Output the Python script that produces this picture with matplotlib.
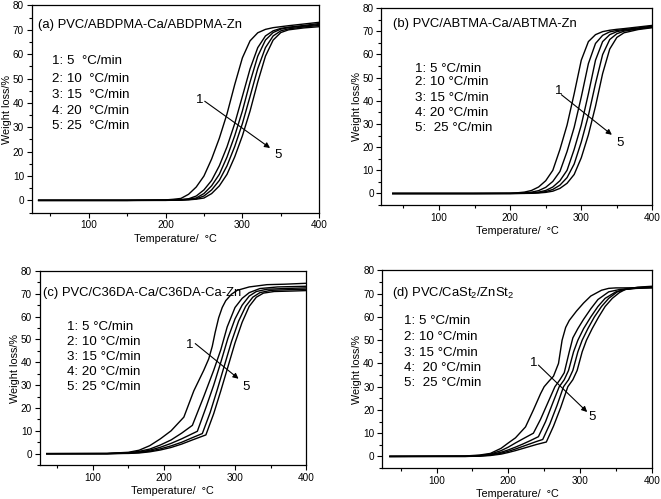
import matplotlib
matplotlib.use("Agg")
import matplotlib.pyplot as plt
from matplotlib.ticker import MultipleLocator

plt.rcParams["font.family"] = ["Liberation Sans", "DejaVu Sans"]
plt.rcParams["mathtext.fontset"] = "custom"
plt.rcParams["mathtext.rm"] = "Liberation Sans"

# ---- data (temperature in degC, weight loss in %) ----
temp_ab = [35, 150, 200, 210, 220, 230, 240, 250, 260, 270, 280, 290, 300, 310, 320, 330, 340, 350, 360, 380, 400]

a_loss = [
    [0, 0, 0.2, 0.45, 0.8, 2.5, 5.5, 10, 17, 25.5, 35.5, 47.5, 58.5, 65.5, 68.8, 70.2, 70.9, 71.3, 71.7, 72.4, 73.1],
    [0, 0, 0.1, 0.2, 0.35, 0.65, 1.8, 4.3, 8.2, 14.2, 22, 31.5, 42.7, 54, 62.7, 67.5, 69.6, 70.6, 71.1, 71.8, 72.6],
    [0, 0, 0.05, 0.1, 0.23, 0.5, 1, 2.8, 6, 10.7, 17.8, 26.5, 36.7, 48.6, 59.2, 65.8, 68.9, 70.3, 70.9, 71.5, 72.2],
    [0, 0, 0.02, 0.08, 0.15, 0.35, 0.65, 1.8, 4.3, 8.2, 14.2, 22.1, 31.5, 42.7, 54.1, 62.7, 67.5, 69.6, 70.4, 71.2, 71.8],
    [0, 0, 0, 0.05, 0.1, 0.23, 0.5, 0.97, 2.8, 5.95, 10.7, 17.85, 26.5, 36.7, 48.6, 59.2, 65.8, 68.9, 70, 70.8, 71.3],
]

b_loss = [
    [0, 0, 0.1, 0.3, 0.6, 1.3, 2.8, 5.5, 10, 19, 29.5, 43, 57.5, 65.5, 68.5, 69.8, 70.4, 70.8, 71.1, 71.8, 72.5],
    [0, 0, 0.05, 0.1, 0.28, 0.57, 1.23, 2.65, 5.2, 9.5, 18.1, 28.5, 41.6, 56, 64.7, 68.2, 69.7, 70.3, 70.7, 71.4, 72.2],
    [0, 0, 0.02, 0.05, 0.1, 0.3, 0.6, 1.3, 2.8, 5.5, 10, 19, 29.5, 43, 57.5, 65.5, 68.5, 69.8, 70.4, 71.1, 71.9],
    [0, 0, 0, 0.05, 0.07, 0.16, 0.39, 0.8, 1.75, 3.6, 6.85, 12.7, 22.2, 33.6, 47.4, 59.9, 66.4, 68.9, 70, 71, 71.7],
    [0, 0, 0, 0.02, 0.04, 0.08, 0.22, 0.48, 1, 2.2, 4.4, 8.2, 15.4, 25.3, 37.6, 51.7, 62.3, 67.3, 69.3, 70.7, 71.5],
]

c_temp = [
    [35, 120, 150, 165, 180, 195, 210, 228, 242, 256, 263, 268, 272, 277, 282, 287, 295, 303, 320, 345, 370, 400],
    [35, 120, 150, 165, 180, 195, 210, 225, 240, 256, 270, 280, 289, 300, 310, 320, 335, 360, 400],
    [35, 120, 150, 165, 180, 195, 210, 225, 247, 260, 270, 280, 290, 300, 310, 320, 330, 345, 370, 400],
    [35, 120, 150, 165, 180, 195, 210, 225, 240, 254, 265, 275, 285, 295, 305, 315, 325, 335, 350, 375, 400],
    [35, 120, 150, 165, 180, 195, 210, 225, 240, 259, 270, 280, 290, 300, 310, 320, 330, 340, 355, 380, 400],
]
c_loss = [
    [0, 0.1, 0.6, 1.5, 3.5, 6.5, 10, 16, 27.5, 36.5, 41.5, 47, 53, 59.5, 64, 67, 69.8, 71.5, 73, 74, 74.2, 74.6],
    [0, 0.05, 0.4, 1, 2, 3.8, 6, 9, 12.4, 25, 36.5, 45.5, 55.5, 64, 68, 70.5, 72.3, 73, 73.3],
    [0, 0, 0.3, 0.7, 1.5, 2.8, 4.5, 6.5, 9.8, 21, 30, 40, 50.5, 59, 65, 69, 71, 72, 72.3, 72.6],
    [0, 0, 0.2, 0.5, 1.1, 2.1, 3.4, 5, 7, 8.8, 18, 28, 38.5, 49, 58, 64.5, 68.5, 70.5, 71.5, 71.8, 72],
    [0, 0, 0.1, 0.3, 0.8, 1.6, 2.7, 4.2, 6, 8.2, 17.5, 27.5, 38, 48.5, 57.5, 64.5, 68.5, 70.3, 71, 71.2, 71.4],
]

d_temp = [
    [35, 140, 160, 175, 190, 200, 210, 224, 235, 245, 250, 257, 263, 270, 275, 280, 285, 295, 305, 315, 330, 340, 350, 360, 380, 400],
    [35, 140, 160, 175, 190, 200, 210, 220, 235, 245, 255, 265, 272, 278, 285, 290, 297, 305, 315, 325, 340, 355, 365, 380, 400],
    [35, 140, 160, 175, 190, 200, 210, 220, 230, 242, 252, 262, 271, 278, 284, 291, 297, 305, 315, 325, 335, 350, 362, 380, 400],
    [35, 140, 160, 175, 190, 200, 210, 220, 230, 240, 248, 258, 268, 277, 284, 290, 297, 303, 311, 320, 330, 340, 352, 362, 380, 400],
    [35, 140, 160, 175, 190, 200, 210, 220, 230, 240, 253, 263, 273, 283, 290, 296, 303, 309, 317, 326, 335, 345, 355, 363, 380, 400],
]
d_loss = [
    [0, 0.2, 0.6, 1.3, 3.5, 5.8, 8, 12.7, 20, 27, 30, 32.5, 34.5, 40, 50, 55.5, 58.5, 62.5, 66, 69, 71.5, 72.3, 72.5, 72.5, 72.6, 72.6],
    [0, 0.1, 0.4, 1, 2.5, 4, 5.8, 7.5, 10, 16, 23, 30, 33, 36, 45, 51, 55, 59, 63.5, 67.5, 70.8, 71.8, 72.1, 72.3, 72.5],
    [0, 0.05, 0.3, 0.8, 1.8, 2.8, 4, 5.3, 6.7, 8.5, 15, 23, 30, 33, 37, 45, 50, 55, 60, 64.5, 68, 70.8, 71.8, 72.4, 72.8],
    [0, 0, 0.2, 0.6, 1.4, 2.2, 3.2, 4.3, 5.4, 6.5, 7.3, 14, 22, 30, 33, 37, 45, 50, 55, 60, 64.5, 68, 70.8, 71.8, 72.6, 73],
    [0, 0, 0.1, 0.4, 1, 1.7, 2.5, 3.4, 4.3, 5.2, 6.2, 13, 21, 30, 33, 37, 45, 50, 55, 60, 64.5, 68, 70.5, 71.8, 72.8, 73.2],
]

titles = ["(a) PVC/ABDPMA-Ca/ABDPMA-Zn", "(b) PVC/ABTMA-Ca/ABTMA-Zn",
          "(c) PVC/C36DA-Ca/C36DA-Ca-Zn", r"(d) PVC/CaSt$_2$/ZnSt$_2$"]
rate_labels = [
    ["1: 5  °C/min", "2: 10  °C/min", "3: 15  °C/min", "4: 20  °C/min", "5: 25  °C/min"],
    ["1: 5 °C/min", "2: 10 °C/min", "3: 15 °C/min", "4: 20 °C/min", "5:  25 °C/min"],
    ["1: 5 °C/min", "2: 10 °C/min", "3: 15 °C/min", "4: 20 °C/min", "5: 25 °C/min"],
    ["1: 5 °C/min", "2: 10 °C/min", "3: 15 °C/min", "4:  20 °C/min", "5:  25 °C/min"],
]

boxes = [
    [0.048, 0.574, 0.435, 0.415],
    [0.577, 0.589, 0.410, 0.395],
    [0.060, 0.068, 0.403, 0.389],
    [0.578, 0.062, 0.408, 0.396],
]
xmins = [26, 19, 25, 24]
title_pos = [(34, 71.8), (36, 72.9), (30, 70.4), (38, 70.5)]
legend_x = [53, 66, 64, 54]
legend_y = [[57.1, 50, 43.2, 36.8, 30.4], [53.9, 48.1, 41.2, 34.7, 28.2],
            [55.5, 48.9, 42.3, 35.8, 29.2], [58.3, 51.2, 44.7, 38.1, 31.8]]
arrows = [((251, 40.7), (336, 21.5)), ((272, 42.6), (343, 25.3)),
          ((244, 48.2), (305, 32.8)), ((242, 39.3), (310, 19.1))]
label1 = [(244, 41.4), (268, 44), (236, 47.4), (236, 40)]
label5 = [(347, 18.8), (355, 21.7), (315, 29.2), (317, 17)]

fig = plt.figure(figsize=(6.61, 4.99), dpi=100)

for i in range(4):
    ax = fig.add_axes(boxes[i])
    if i == 0:
        for y in a_loss:
            ax.plot(temp_ab, y, color="black", lw=1.0)
    elif i == 1:
        for y in b_loss:
            ax.plot(temp_ab, y, color="black", lw=1.0)
    elif i == 2:
        for x, y in zip(c_temp, c_loss):
            ax.plot(x, y, color="black", lw=1.0)
    else:
        for x, y in zip(d_temp, d_loss):
            ax.plot(x, y, color="black", lw=1.0)

    ax.set_xlim(xmins[i], 400)
    ax.set_ylim(-5, 80)
    ax.xaxis.set_major_locator(MultipleLocator(100))
    ax.xaxis.set_minor_locator(MultipleLocator(50))
    ax.yaxis.set_major_locator(MultipleLocator(10))
    ax.yaxis.set_minor_locator(MultipleLocator(5))
    ax.tick_params(which="major", direction="out", length=3.5, width=0.8, labelsize=7.2, pad=2)
    ax.tick_params(which="minor", direction="out", length=2, width=0.8)
    for s in ax.spines.values():
        s.set_linewidth(0.9)

    ax.set_xlabel("Temperature/  °C", fontsize=7.8, labelpad=2.5)
    ax.set_ylabel("Weight loss/%", fontsize=7.8, labelpad=0.5)

    ax.text(title_pos[i][0], title_pos[i][1], titles[i], fontsize=9.4, va="center", ha="left")
    for lab, ly in zip(rate_labels[i], legend_y[i]):
        ax.text(legend_x[i], ly, lab, fontsize=9.6, va="center", ha="left")

    (x0, y0), (x1, y1) = arrows[i]
    ax.annotate("", xy=(x1, y1), xytext=(x0, y0),
                arrowprops=dict(arrowstyle="-|>", color="black", lw=0.8,
                                mutation_scale=8, shrinkA=0, shrinkB=0))
    ax.text(label1[i][0], label1[i][1], "1", fontsize=9.5, ha="center", va="center")
    ax.text(label5[i][0], label5[i][1], "5", fontsize=9.5, ha="center", va="center")

fig.savefig("out.png", dpi=100)
